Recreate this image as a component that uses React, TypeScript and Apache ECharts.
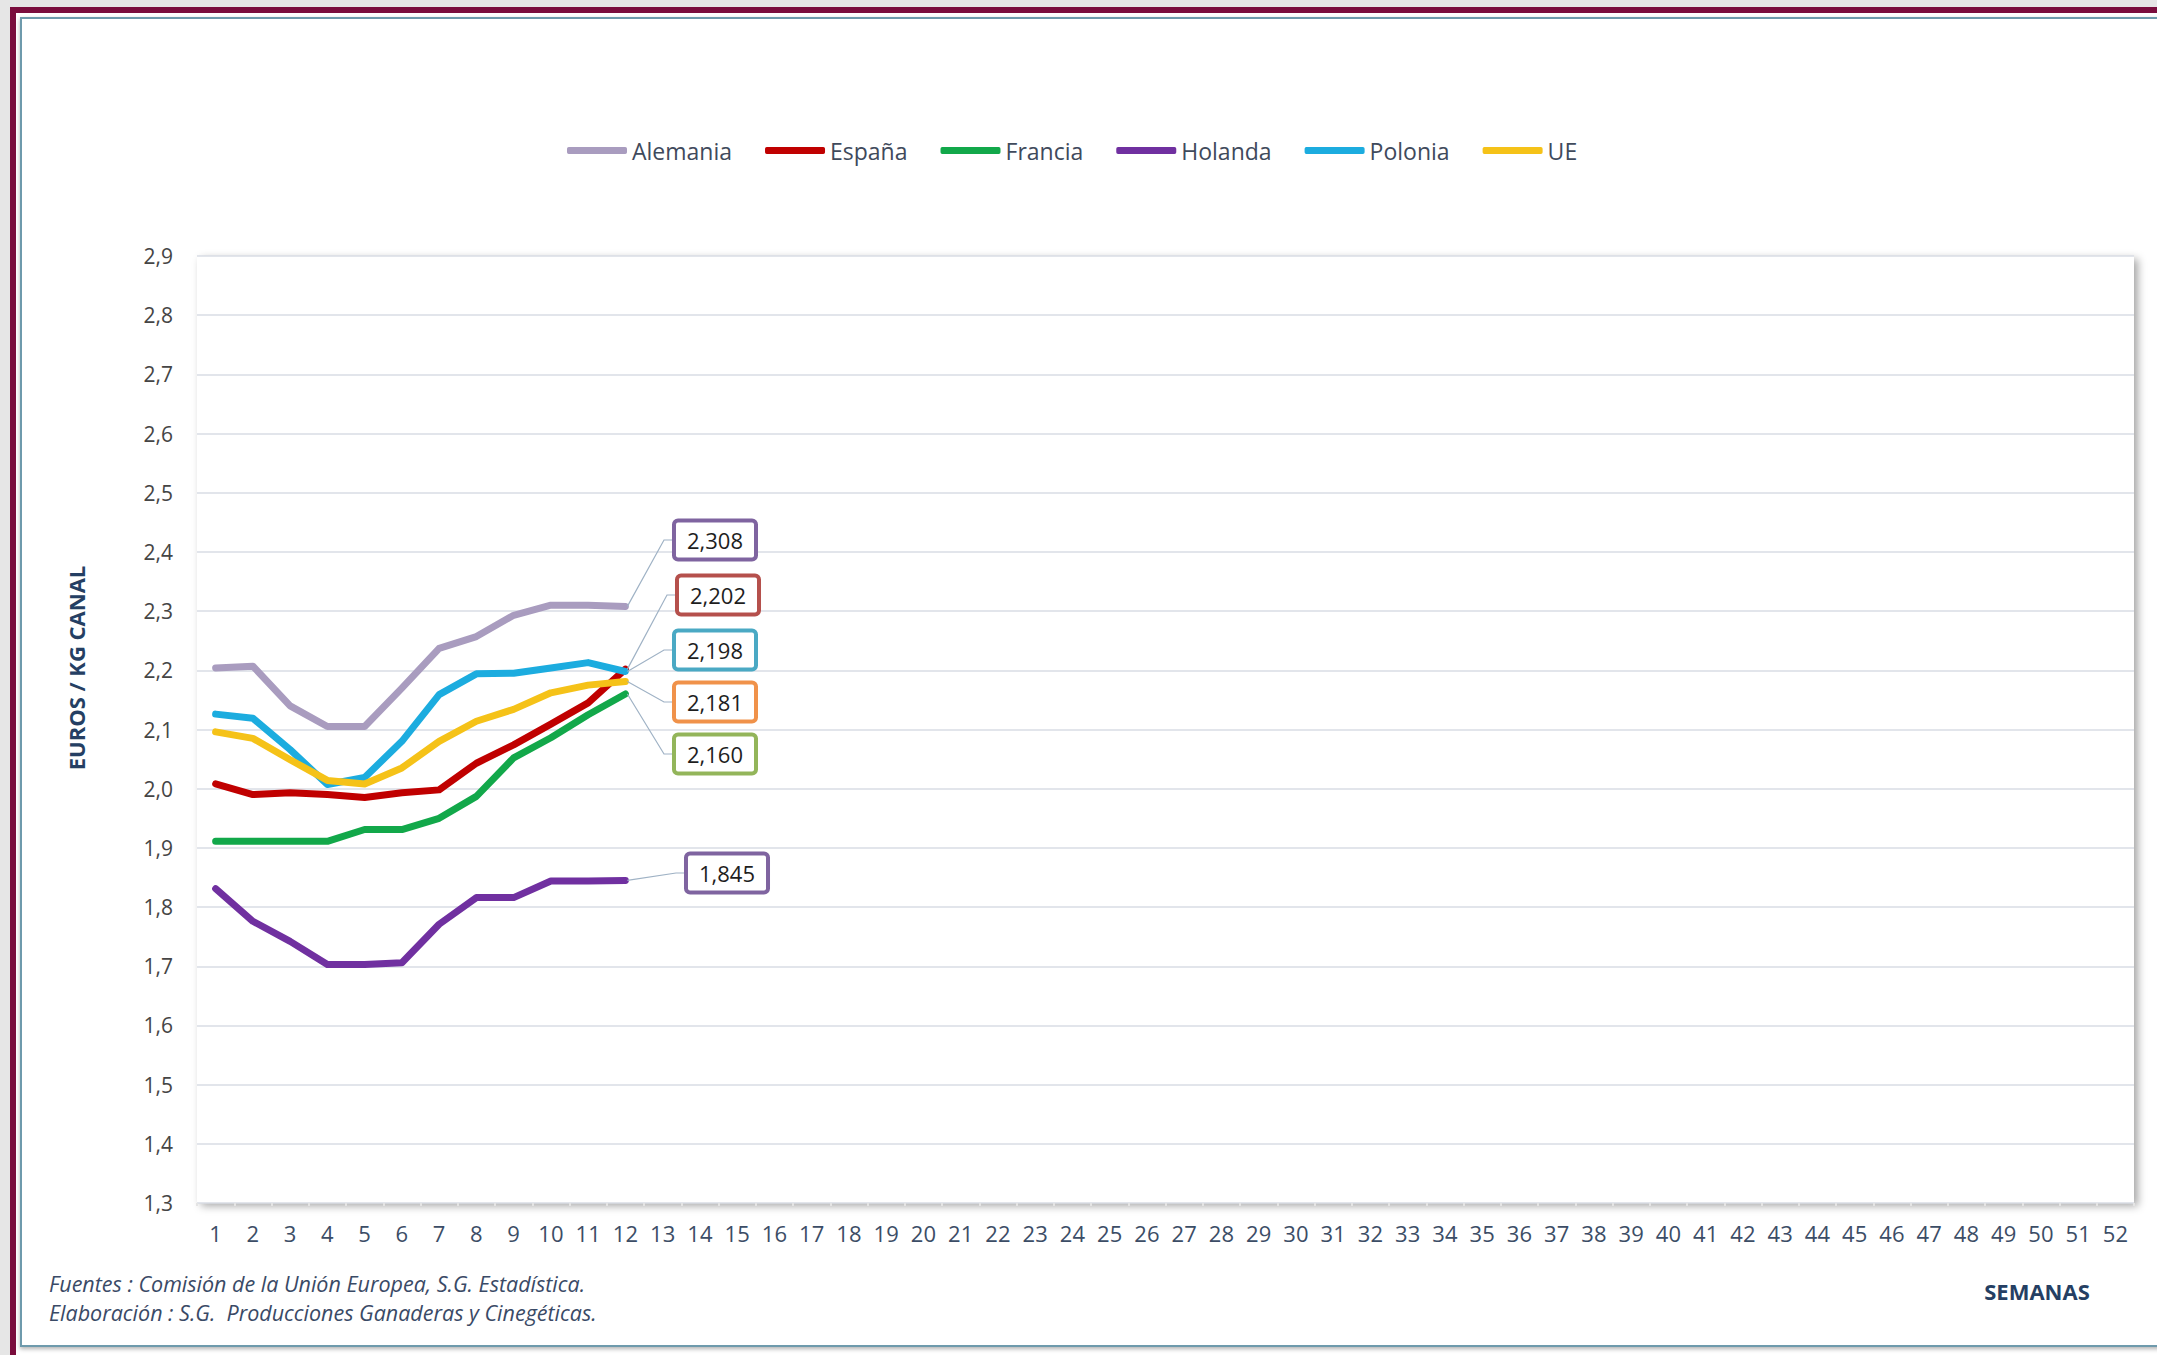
import React, { useEffect, useRef } from 'react';
import * as echarts from 'echarts';

// ---------- DATA ----------
const WEEKS = [
  '1', '2', '3', '4', '5', '6', '7', '8', '9', '10', '11', '12', '13',
  '14', '15', '16', '17', '18', '19', '20', '21', '22', '23', '24', '25', '26',
  '27', '28', '29', '30', '31', '32', '33', '34', '35', '36', '37', '38', '39',
  '40', '41', '42', '43', '44', '45', '46', '47', '48', '49', '50', '51', '52',
];

const ALEMANIA = [2.204, 2.207, 2.14, 2.105, 2.105, 2.17, 2.237, 2.257, 2.293, 2.31, 2.31, 2.308];
const ESPANA = [2.008, 1.99, 1.993, 1.99, 1.985, 1.993, 1.998, 2.043, 2.074, 2.109, 2.145, 2.202];
const FRANCIA = [1.911, 1.911, 1.911, 1.911, 1.931, 1.931, 1.95, 1.987, 2.052, 2.086, 2.125, 2.16];
const HOLANDA = [1.831, 1.776, 1.742, 1.703, 1.703, 1.706, 1.771, 1.816, 1.816, 1.844, 1.844, 1.845];
const POLONIA = [2.126, 2.119, 2.066, 2.007, 2.019, 2.08, 2.159, 2.194, 2.195, 2.204, 2.213, 2.198];
const UE = [2.096, 2.085, 2.049, 2.014, 2.008, 2.035, 2.08, 2.114, 2.134, 2.162, 2.175, 2.181];

const SERIES_NAMES = ['Alemania', 'España', 'Francia', 'Holanda', 'Polonia', 'UE'];
const SERIES_VALUES = [ALEMANIA, ESPANA, FRANCIA, HOLANDA, POLONIA, UE];

const Y_MIN = 1.3;
const Y_MAX = 2.9;
const Y_STEP = 0.1;

const Y_TITLE = 'EUROS / KG CANAL';
const X_TITLE = 'SEMANAS';
const SOURCE_1 = 'Fuentes : Comisión de la Unión Europea, S.G. Estadística.';
const SOURCE_2 = 'Elaboración : S.G.  Producciones Ganaderas y Cinegéticas.';

// ---------- STYLES / LAYOUT (in series order) ----------
const LINE_COLORS = ['#a99cbf', '#c00000', '#12a84a', '#7030a0', '#1cacdf', '#f5c218'];
const BOX_COLORS = ['#7f64a0', '#b5504c', '#93b55a', '#7f64a0', '#4aa9c4', '#f0924a'];
// centre of each value box (px) — layout only
const LABEL_CENTERS = [
  [715, 540], // Alemania
  [718, 595], // España
  [715, 754], // Francia
  [727, 873], // Holanda
  [715, 650], // Polonia
  [715, 702], // UE
];
const BOX_HALF_WIDTH = 41;
const ELBOW = 10;

const FONT = "'Open Sans', 'Noto Sans', sans-serif";

export default function App() {
  const ref = useRef<HTMLDivElement>(null);

  useEffect(() => {
    if (!ref.current) return;
    const chart = echarts.init(ref.current, null, { renderer: 'svg' });

    const series = SERIES_NAMES.map((name, si) => ({
      name,
      type: 'line',
      data: SERIES_VALUES[si],
      color: LINE_COLORS[si],
      symbol: 'none',
      smooth: false,
      lineStyle: { width: 7, color: LINE_COLORS[si], cap: 'round', join: 'round' },
      itemStyle: { color: LINE_COLORS[si] },
      emphasis: { disabled: true },
      z: 3 + si,
    }));

    const baseGraphic: any[] = [
      {
        id: 'frame-outer',
        type: 'rect',
        z: -20,
        silent: true,
        shape: { x: 13, y: 10, width: 2300, height: 1500 },
        style: { fill: '#ffffff', stroke: '#7a0d3d', lineWidth: 6 },
      },
      {
        id: 'frame-inner',
        type: 'rect',
        z: -19,
        silent: true,
        shape: { x: 21, y: 18, width: 2300, height: 1328 },
        style: {
          fill: '#ffffff',
          stroke: '#6e9aac',
          lineWidth: 2,
          shadowColor: 'rgba(0,0,0,0.3)',
          shadowBlur: 4,
          shadowOffsetY: 2,
        },
      },
      {
        id: 'ytitle',
        type: 'text',
        z: 10,
        x: 76,
        y: 668,
        rotation: Math.PI / 2,
        style: {
          text: Y_TITLE,
          fontFamily: FONT,
          fontWeight: 'bold',
          fontSize: 22,
          fill: '#253f63',
          textAlign: 'center',
          textVerticalAlign: 'middle',
        },
      },
      {
        id: 'xtitle',
        type: 'text',
        z: 10,
        x: 2037,
        y: 1291,
        style: {
          text: X_TITLE,
          fontFamily: FONT,
          fontWeight: 'bold',
          fontSize: 22,
          fill: '#253f63',
          textAlign: 'center',
          textVerticalAlign: 'middle',
        },
      },
      {
        id: 'src1',
        type: 'text',
        z: 10,
        x: 49,
        y: 1283,
        style: {
          text: SOURCE_1,
          fontFamily: FONT,
          fontStyle: 'italic',
          fontSize: 21.5,
          fill: '#3a4a66',
          textAlign: 'left',
          textVerticalAlign: 'middle',
        },
      },
      {
        id: 'src2',
        type: 'text',
        z: 10,
        x: 49,
        y: 1312,
        style: {
          text: SOURCE_2,
          fontFamily: FONT,
          fontStyle: 'italic',
          fontSize: 21.5,
          fill: '#3a4a66',
          textAlign: 'left',
          textVerticalAlign: 'middle',
        },
      },
    ];

    const option: any = {
      animation: false,
      backgroundColor: '#e6e6e6',
      textStyle: { fontFamily: FONT },
      legend: {
        show: true,
        left: 562,
        top: 134,
        data: SERIES_NAMES,
        icon: 'roundRect',
        itemWidth: 60,
        itemHeight: 7,
        itemGap: 33,
        selectedMode: false,
        textStyle: { fontFamily: FONT, fontSize: 23, color: '#3f4a5c' },
      },
      grid: {
        show: true,
        left: 197,
        right: 23,
        top: 256,
        bottom: 152,
        containLabel: false,
        outerBoundsMode: 'none',
        backgroundColor: '#ffffff',
        borderWidth: 0,
        shadowColor: 'rgba(0,0,0,0.35)',
        shadowBlur: 8,
        shadowOffsetX: 4,
        shadowOffsetY: 3,
      },
      xAxis: {
        type: 'category',
        data: WEEKS,
        boundaryGap: true,
        axisLine: {
          show: true,
          lineStyle: {
            color: '#a3a3a3',
            width: 5,
            shadowColor: 'rgba(0,0,0,0.25)',
            shadowBlur: 3,
            shadowOffsetY: 2,
          },
        },
        axisTick: {
          show: true,
          interval: 0,
          length: 3,
          lineStyle: { color: '#e4e4e4', width: 2 },
        },
        axisLabel: {
          interval: 0,
          fontFamily: FONT,
          fontSize: 22,
          color: '#3c4d66',
          margin: 19,
        },
        splitLine: { show: false },
      },
      yAxis: {
        type: 'value',
        min: Y_MIN,
        max: Y_MAX,
        interval: Y_STEP,
        axisLine: { show: false },
        axisTick: { show: false },
        axisLabel: {
          fontFamily: FONT,
          fontSize: 21,
          color: '#454545',
          margin: 24,
          formatter: (v: number) => v.toFixed(1).replace('.', ','),
        },
        splitLine: { show: true, lineStyle: { color: '#d8dde5', width: 1.5 } },
      },
      graphic: baseGraphic,
      series,
    };

    chart.setOption(option);

    // value boxes with leader lines, anchored on each series' last point via the chart scales
    const labelGraphic: any[] = [];
    SERIES_VALUES.forEach((values, si) => {
      const last = values.length - 1;
      const pt = chart.convertToPixel({ seriesIndex: si }, [last, values[last]]) as number[];
      const [cx, cy] = LABEL_CENTERS[si];
      const left = cx - BOX_HALF_WIDTH;
      labelGraphic.push({
        id: 'leader-' + si,
        type: 'polyline',
        z: 20,
        silent: true,
        shape: { points: [[pt[0] + 2, pt[1]], [left - ELBOW, cy], [left, cy]] },
        style: { stroke: '#9fb2c5', lineWidth: 1.2, fill: null },
      });
      labelGraphic.push({
        id: 'box-' + si,
        type: 'text',
        z: 21,
        x: cx,
        y: cy,
        style: {
          text: values[last].toFixed(3).replace('.', ','),
          fontFamily: FONT,
          fontSize: 22,
          fill: '#1e1e1e',
          backgroundColor: '#ffffff',
          borderColor: BOX_COLORS[si],
          borderWidth: 4,
          borderRadius: 2,
          padding: [7, 11, 6, 11],
          align: 'center',
          verticalAlign: 'middle',
        },
      });
    });

    chart.setOption({ graphic: [...baseGraphic, ...labelGraphic] });

    return () => chart.dispose();
  }, []);

  return (
    <div
      ref={ref}
      style={{ position: 'absolute', left: 0, top: 0, width: 2157, height: 1355 }}
    />
  );
}
